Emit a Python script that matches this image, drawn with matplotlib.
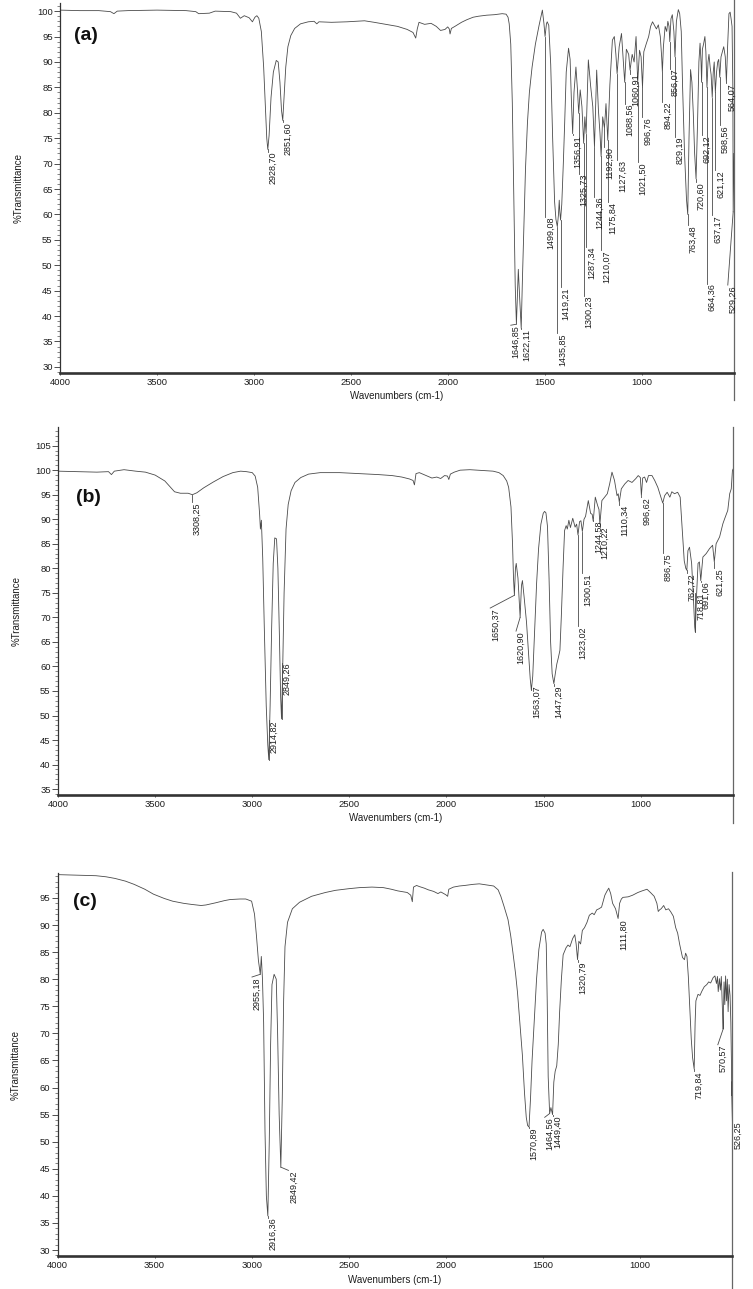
import numpy as np
import matplotlib
matplotlib.use("Agg")
import matplotlib.pyplot as plt
from matplotlib.transforms import offset_copy

plt.rcParams['font.family'] = ['Liberation Sans', 'DejaVu Sans']

# ---------------- (a) spectrum ----------------
wn_a = [4000, 3900, 3800, 3740, 3722, 3705, 3650, 3500, 3350, 3300, 3285, 3230, 3200, 3120, 3090,
        3070, 3050, 3025, 3008, 2995, 2985, 2975, 2962, 2950, 2940, 2934, 2928.70, 2922, 2912, 2900,
        2885, 2875, 2866, 2858, 2851.60, 2845, 2836, 2825, 2810, 2790, 2760, 2720, 2690, 2676, 2665,
        2600, 2520, 2430, 2380, 2320, 2260, 2210, 2180, 2166, 2158, 2149, 2120, 2087, 2060, 2038,
        2015, 2001, 1993, 1989, 1982, 1964, 1930, 1903, 1870, 1842, 1800, 1760, 1720, 1700, 1690,
        1684, 1676, 1668, 1660, 1653, 1646.85, 1642, 1637, 1630, 1622.11, 1616, 1608, 1600, 1590, 1580,
        1566, 1549, 1530, 1513, 1505, 1499.08, 1492, 1488, 1480, 1470, 1460, 1450, 1443, 1435.85, 1430,
        1426, 1423, 1419.21, 1413, 1405, 1398, 1390, 1378, 1370, 1363, 1356.91, 1350, 1340, 1332, 1325.73,
        1318, 1309, 1300.23, 1294, 1287.34, 1276, 1264, 1253, 1244.36, 1233, 1224, 1216, 1210.07, 1202, 1192.90,
        1185, 1175.84, 1165, 1152, 1142, 1134, 1127.63, 1117, 1105, 1096, 1088.56, 1080, 1068, 1060.91, 1050,
        1040, 1030, 1021.50, 1012, 1004, 996.76, 990, 978, 965, 955, 945, 935, 925, 915, 905,
        898, 894.22, 889, 880, 872, 866, 860, 856.07, 850, 843, 835, 829.19, 822, 812, 805,
        797, 790, 780, 770, 763.48, 757, 749, 742, 735, 728, 720.60, 713, 706, 700, 695,
        692.12, 688, 682, 675, 670, 664.36, 659, 654, 648, 643, 637.17, 632, 627, 621.12, 615,
        609, 604, 598.56, 592, 585, 578, 570, 564.07, 558, 551, 545, 540, 535, 531, 529.26, 525]
t_a = [100.2, 100.1, 100.1, 99.9, 99.5, 100.0, 100.1, 100.2, 100.1, 99.9, 99.5, 99.6, 100.0, 99.9, 99.6,
       98.6, 99.1, 98.7, 97.9, 98.8, 99.1, 98.6, 96.0, 89.0, 80.0, 75.0, 72.8, 75.5, 83.0, 88.0,
       90.3, 90.0, 86.0, 80.5, 78.5, 83.0, 89.0, 93.0, 95.2, 96.6, 97.5, 97.9, 98.0, 97.5, 97.9,
       97.8, 97.9, 98.1, 97.8, 97.4, 97.0, 96.4, 95.8, 94.7, 96.5, 97.8, 97.4, 97.6, 97.0, 96.2,
       96.4, 96.9, 96.5, 95.5, 96.6, 97.0, 97.8, 98.3, 98.8, 99.0, 99.2, 99.3, 99.5, 99.4, 98.8,
       97.5, 93.5, 82.0, 62.5, 46.0, 38.4, 44.0, 49.2, 43.5, 37.6, 47.0, 58.0, 69.0, 78.0, 84.0,
       89.0, 93.5, 97.2, 100.2, 97.6, 95.0, 97.5, 97.9, 97.2, 89.5, 75.0, 62.5, 59.0, 57.6, 60.0,
       62.8, 60.5, 58.9, 62.0, 70.0, 78.0, 88.0, 92.7, 90.5, 82.0, 75.9, 84.0, 89.0, 84.5, 79.9,
       84.5, 81.2, 74.0, 79.2, 75.9, 90.4, 85.2, 81.2, 73.3, 88.4, 80.5, 76.0, 71.4, 79.2, 77.0,
       81.8, 74.6, 85.5, 94.3, 95.0, 91.5, 87.7, 93.0, 95.6, 90.5, 86.0, 92.5, 91.5, 88.4, 91.5,
       90.0, 95.0, 86.0, 92.3, 91.0, 85.0, 92.0, 93.5, 95.0, 97.0, 97.9, 97.2, 96.5, 97.3, 95.0,
       91.0, 88.0, 93.0, 97.0, 96.0, 98.0, 97.0, 94.0, 98.5, 99.3, 96.0, 91.0, 98.0, 100.3, 99.5,
       96.0, 85.0, 72.0, 63.0, 60.0, 75.0, 88.5, 86.0, 80.0, 72.0, 67.0, 78.0, 90.0, 93.7, 90.0,
       86.0, 92.5, 93.5, 95.0, 92.0, 85.0, 90.0, 91.5, 89.0, 87.5, 83.0, 88.0, 90.0, 84.0, 88.0,
       90.0, 90.5, 87.0, 91.0, 92.0, 93.0, 91.0, 86.0, 93.0, 99.5, 99.8, 98.5, 97.0, 85.0, 60.5, 72.0]

lab_a = [2928.70, 2851.60, 1646.85, 1622.11, 1499.08, 1435.85, 1419.21, 1356.91, 1325.73, 1300.23,
         1287.34, 1244.36, 1210.07, 1192.90, 1175.84, 1127.63, 1088.56, 1060.91, 1021.50, 996.76,
         894.22, 856.07, 829.19, 763.48, 720.60, 692.12, 664.36, 637.17, 621.12, 598.56, 564.07, 529.26]
lab_a_top = [72.3, 78.2, 38.2, 37.5, 59.5, 36.6, 45.7, 75.6, 68.0, 44.0,
             53.6, 63.5, 53.0, 73.3, 62.5, 70.7, 81.8, 87.7, 70.3, 79.2,
             82.2, 88.7, 75.3, 57.9, 66.4, 75.6, 46.4, 59.9, 68.7, 77.6, 85.8, 46.1]
lab_a_tx = {1646.85: 1676, 529.26: 557}

# ---------------- (b) spectrum ----------------
wn_b = [4000, 3900, 3800, 3740, 3725, 3710, 3660, 3600, 3550, 3500, 3450, 3420, 3400, 3370, 3330,
        3308.25, 3285, 3250, 3200, 3150, 3100, 3060, 3030, 3000, 2985, 2972, 2962, 2958, 2953, 2946,
        2938, 2928, 2920, 2914.82, 2908, 2900, 2892, 2884, 2875, 2868, 2860, 2854, 2849.26, 2844, 2836,
        2826, 2815, 2800, 2780, 2750, 2710, 2650, 2550, 2450, 2350, 2280, 2230, 2190, 2172, 2165,
        2157, 2140, 2110, 2075, 2050, 2030, 2010, 1995, 1988, 1980, 1960, 1930, 1880, 1840, 1800,
        1760, 1730, 1708, 1690, 1680, 1668, 1660, 1655, 1650.37, 1645, 1641, 1632, 1625, 1620.90, 1614,
        1609, 1600, 1588, 1578, 1569, 1563.07, 1556, 1546, 1536, 1526, 1514, 1502, 1495, 1488, 1480,
        1472, 1464, 1456, 1447.29, 1440, 1432, 1424, 1416, 1409, 1400, 1392, 1384, 1378, 1370, 1362,
        1350, 1338, 1330, 1323.02, 1315, 1308, 1300.51, 1292, 1284, 1270, 1258, 1250, 1244.58, 1234, 1222,
        1215, 1210.22, 1200, 1186, 1172, 1160, 1148, 1135, 1122, 1116, 1110.34, 1100, 1082, 1065, 1045,
        1025, 1013, 1002, 996.62, 990, 980, 970, 960, 942, 928, 912, 897, 886.75, 877, 864,
        850, 840, 826, 810, 797, 787, 776, 768, 762.72, 757, 749, 738, 729, 722, 718.81,
        713, 705, 698, 691.06, 680, 663, 646, 630, 621.25, 612, 594, 577, 568, 552, 542,
        534, 528, 525]
t_b = [99.8, 99.7, 99.6, 99.7, 99.1, 99.8, 100.1, 99.8, 99.6, 99.0, 97.8, 96.5, 95.6, 95.3, 95.3,
       95.0, 95.4, 96.4, 97.6, 98.7, 99.5, 99.8, 99.7, 99.5, 98.8, 96.5, 91.0, 88.0, 89.8, 82.0,
       68.0, 52.0, 44.0, 41.0, 52.0, 68.0, 81.0, 86.2, 86.0, 80.0, 66.0, 54.0, 49.3, 58.0, 75.0,
       88.0, 93.0, 95.8, 97.5, 98.5, 99.2, 99.5, 99.5, 99.3, 99.1, 98.9, 98.6, 98.2, 97.9, 97.0,
       99.3, 99.5, 99.0, 98.4, 98.6, 98.3, 98.9, 98.8, 98.1, 99.2, 99.6, 100.0, 100.1, 100.0, 99.9,
       99.8, 99.5, 98.9, 97.8, 96.5, 92.5, 85.0, 78.0, 74.5, 80.0, 81.0, 78.0, 73.0, 70.0, 76.5,
       77.5, 74.0, 69.0, 63.0, 57.5, 55.2, 58.0, 67.5, 77.0, 84.0, 89.0, 91.2, 91.6, 91.3, 88.5,
       78.0, 65.0, 58.5, 56.5, 58.5, 60.5, 61.8, 63.3, 70.0, 80.0, 87.7, 88.7, 88.0, 89.8, 88.3,
       90.2, 88.4, 89.0, 86.8, 89.5, 89.7, 87.5, 90.0, 90.6, 93.8, 91.2, 91.0, 89.6, 94.5, 92.8,
       92.0, 89.0, 93.8, 94.5, 95.2, 97.2, 99.6, 97.9, 94.8, 95.2, 93.5, 96.2, 97.2, 97.9, 97.5,
       98.3, 98.9, 98.5, 94.8, 98.4, 98.6, 97.5, 98.9, 98.9, 97.9, 96.5, 94.6, 93.3, 94.8, 95.5,
       94.5, 95.6, 95.2, 95.5, 94.5, 88.4, 81.5, 80.0, 79.6, 83.6, 84.3, 81.0, 74.0, 68.0, 67.0,
       74.2, 81.0, 81.3, 77.5, 82.3, 83.0, 84.0, 84.7, 81.3, 85.0, 86.4, 89.1, 90.1, 91.8, 95.2,
       96.2, 99.9, 100.2]

lab_b = [3308.25, 2914.82, 2849.26, 1650.37, 1620.90, 1563.07, 1447.29, 1323.02, 1300.51, 1244.58,
         1210.22, 1110.34, 996.62, 886.75, 762.72, 718.81, 691.06, 621.25]
lab_b_top = [93.5, 49.0, 60.8, 71.9, 67.2, 56.1, 56.1, 68.2, 79.0, 89.8,
             88.5, 92.9, 94.5, 83.1, 79.0, 75.0, 77.3, 80.0]
lab_b_tx = {1650.37: 1775, 1620.90: 1642}

# ---------------- (c) spectrum ----------------
wn_c = [4000, 3900, 3802, 3750, 3704, 3650, 3605, 3550, 3506, 3450, 3407, 3350, 3309, 3260, 3235,
        3185, 3140, 3111, 3060, 3030, 3000, 2985, 2975, 2965, 2955.18, 2950, 2944, 2938, 2931, 2924,
        2916.36, 2909, 2902, 2895, 2884, 2873, 2866, 2858, 2849.42, 2842, 2835, 2828, 2815, 2790, 2753,
        2691, 2620, 2568, 2500, 2444, 2380, 2321, 2280, 2247, 2198, 2180, 2172, 2166, 2150, 2136,
        2110, 2090, 2062, 2040, 2025, 2000, 1990, 1984, 1960, 1930, 1902, 1860, 1827, 1790, 1753,
        1730, 1716, 1700, 1679, 1665, 1654, 1640, 1630, 1618, 1605, 1594, 1585, 1578, 1570.89, 1563,
        1555, 1543, 1532, 1520, 1506, 1498, 1488, 1482, 1477, 1472, 1464.56, 1458, 1449.40, 1443, 1436,
        1428, 1420, 1413, 1404, 1395, 1380, 1370, 1360, 1346, 1335, 1328, 1320.79, 1314, 1305, 1296,
        1285, 1272, 1260, 1245, 1235, 1222, 1210, 1197, 1188, 1180, 1170, 1160, 1150, 1140, 1125,
        1111.80, 1104, 1095, 1087, 1060, 1037, 1010, 988, 963, 945, 926, 912, 905, 898, 890,
        877, 866, 852, 840, 827, 815, 805, 795, 780, 770, 764, 757, 750, 743, 735,
        728, 722, 719.84, 715, 711, 700, 690, 680, 668, 655, 645, 635, 622, 613, 605,
        600, 596, 590, 585, 580, 576, 573, 570.57, 566, 562, 558, 553, 549, 545, 540,
        535, 531, 528, 526.25, 525]
t_c = [99.3, 99.2, 99.1, 98.9, 98.6, 98.1, 97.5, 96.6, 95.7, 94.9, 94.4, 94.0, 93.8, 93.6, 93.7,
       94.1, 94.5, 94.7, 94.8, 94.8, 94.4, 92.0, 88.0, 83.5, 80.9, 84.2, 80.0, 72.0, 52.0, 40.0,
       36.3, 50.0, 68.0, 79.0, 80.9, 80.0, 70.0, 55.0, 45.3, 58.0, 76.0, 86.0, 90.5, 93.0, 94.2,
       95.3, 96.0, 96.4, 96.7, 96.9, 97.0, 96.9, 96.6, 96.3, 96.0, 95.5, 94.3, 97.0, 97.3, 97.1,
       96.8, 96.5, 96.2, 95.8, 96.1, 95.6, 95.3, 96.6, 97.0, 97.2, 97.3, 97.5, 97.6, 97.4, 97.2,
       96.5, 95.3, 93.5, 91.0, 88.0, 85.0, 81.0, 77.5, 72.0, 66.0, 59.0, 54.5, 53.0, 52.7, 58.0,
       65.0, 73.0, 80.0, 85.5, 88.7, 89.2, 88.5, 86.5, 76.0, 62.0, 55.2, 56.3, 55.0, 61.0, 63.0,
       64.0, 68.0, 74.0, 80.0, 84.5, 85.8, 86.3, 86.0, 87.5, 88.2, 86.5, 83.6, 87.0, 86.5, 89.0,
       89.5, 90.5, 91.8, 92.2, 91.9, 92.8, 93.0, 93.3, 94.5, 95.5, 96.2, 96.8, 95.8, 94.0, 93.0,
       91.2, 94.0, 94.8, 95.1, 95.2, 95.5, 96.0, 96.3, 96.6, 96.0, 95.3, 94.0, 92.5, 92.8, 93.0,
       93.6, 92.8, 93.0, 92.4, 91.6, 89.5, 88.5, 86.5, 84.0, 83.6, 84.8, 84.2, 80.5, 75.0, 69.0,
       65.5, 64.0, 63.4, 72.0, 76.0, 77.2, 77.0, 77.8, 78.6, 79.0, 79.5, 79.3, 80.3, 80.6, 79.2,
       80.5, 77.7, 80.1, 78.0, 80.5, 75.9, 73.0, 70.8, 79.5, 75.3, 80.6, 76.0, 80.0, 74.0, 79.0,
       77.0, 72.0, 65.0, 58.5, 61.0]

lab_c = [2955.18, 2916.36, 2849.42, 1570.89, 1464.56, 1449.40, 1320.79, 1111.80, 719.84, 570.57, 526.25]
lab_c_top = [80.4, 36.0, 44.7, 52.6, 54.5, 54.8, 83.2, 91.1, 63.0, 67.9, 53.8]
lab_c_tx = {2955.18: 2998, 2849.42: 2810, 1464.56: 1490, 570.57: 598, 526.25: 523}

LINE = '#4a4a4a'
TXT = '#1e1e1e'


def panel(ax, wn, t, labs, tops, tx, ylim, yticks, border):
    ax.plot(wn, t, color=LINE, lw=0.6)
    xs = np.array(wn)[::-1]
    ys = np.array(t)[::-1]
    trans = offset_copy(ax.transData, fig=ax.figure, x=0.6, y=0, units='dots')
    for w, top in zip(labs, tops):
        yp = np.interp(w, xs, ys)
        xt = tx.get(w, w)
        ax.plot([w, xt], [yp, top], color=LINE, lw=0.6, clip_on=False)
        s = f"{w:.2f}".replace('.', ',')
        ax.text(xt, top, s, rotation=90, ha='left', va='top', fontsize=6.5,
                color=TXT, transform=trans, clip_on=False)
    ax.set_xlim(4000, 525)
    ax.set_ylim(*ylim)
    ax.set_xticks([4000, 3500, 3000, 2500, 2000, 1500, 1000])
    ax.set_yticks(yticks)
    ax.set_yticks(np.arange(yticks[0] - 1, ylim[1], 1), minor=True)
    ax.tick_params(axis='y', which='major', length=4.3, width=0.6, pad=1, labelsize=6.8,
                   colors='#333', labelcolor=TXT)
    ax.tick_params(axis='y', which='minor', length=2.0, width=0.5, colors='#555')
    ax.tick_params(axis='x', which='major', length=1.6, width=0.6, pad=2.2, labelsize=6.8,
                   colors='#333', labelcolor=TXT)
    for side in ['top', 'right']:
        ax.spines[side].set_visible(False)
    ax.spines['left'].set_linewidth(0.9)
    ax.spines['left'].set_color('#333')
    ax.spines['bottom'].set_linewidth(1.9)
    ax.spines['bottom'].set_color('#333')
    ax.plot([1, 1], border, transform=ax.transAxes, color='#666', lw=0.9, clip_on=False)
    ax.text(0.5, -0.063, 'Wavenumbers (cm-1)', transform=ax.transAxes, ha='center', va='center',
            fontsize=7, color=TXT)
    ax.text(-0.062, 0.5, '%Transmittance', transform=ax.transAxes, rotation=90, ha='center',
            va='center', fontsize=7, color=TXT)


fig = plt.figure(figsize=(7.53, 12.89), dpi=100)
H = 1289.0
ax_a = fig.add_axes([60 / 753, 1 - 373 / H, 674 / 753, 370 / H])
ax_b = fig.add_axes([58 / 753, 1 - 795 / H, 675 / 753, 368 / H])
ax_c = fig.add_axes([57.5 / 753, 1 - 1256 / H, 674.5 / 753, 383 / H])

panel(ax_a, wn_a, t_a, lab_a, lab_a_top, lab_a_tx, (28.8, 101.6), np.arange(30, 101, 5),
      (-0.073, 1.008))
panel(ax_b, wn_b, t_b, lab_b, lab_b_top, lab_b_tx, (33.8, 108.8), np.arange(35, 106, 5),
      (-0.076, 1.0))
panel(ax_c, wn_c, t_c, lab_c, lab_c_top, lab_c_tx, (28.9, 99.6), np.arange(30, 96, 5),
      (-0.086, 1.003))

for s, (px, py) in zip(['(a)', '(b)', '(c)'], [(86, 35), (88, 497), (85, 901)]):
    fig.text(px / 753, 1 - py / H, s, ha='center', va='center', fontsize=14,
             fontweight='bold', color='#111')

fig.savefig('out.png', dpi=100)
